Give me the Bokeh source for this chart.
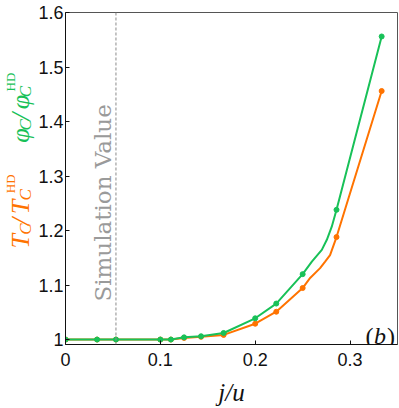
import math
from bokeh.plotting import figure
from bokeh.layouts import row
from bokeh.models import Label, Span, FixedTicker, Range1d
from bokeh.embed import file_html
from bokeh.resources import INLINE

# ---------------- data ----------------
j_points = [0.0, 0.0333, 0.0532, 0.1, 0.1111, 0.125, 0.1429, 0.1667, 0.2, 0.2222, 0.25, 0.2857, 0.3333]
tc_points = [1.0, 1.0, 1.0, 1.0, 1.0, 1.003, 1.005, 1.0085, 1.029, 1.051, 1.0945, 1.188, 1.456]
phi_points = [1.0, 1.0, 1.0, 1.0, 1.0, 1.004, 1.006, 1.012, 1.039, 1.066, 1.120, 1.238, 1.556]

# curves (denser near the kink)
j_curve_tc = [0.0, 0.0333, 0.0532, 0.1, 0.1111, 0.125, 0.1429, 0.1667, 0.2, 0.2222, 0.25,
              0.2579, 0.2684, 0.2737, 0.2789, 0.2857, 0.3333]
tc_curve = [1.0, 1.0, 1.0, 1.0, 1.0, 1.003, 1.005, 1.0085, 1.029, 1.051, 1.0945,
            1.113, 1.131, 1.143, 1.155, 1.188, 1.456]
j_curve_phi = [0.0, 0.0333, 0.0532, 0.1, 0.1111, 0.125, 0.1429, 0.1667, 0.2, 0.2222, 0.25,
               0.2597, 0.2702, 0.2755, 0.2807, 0.2857, 0.3333]
phi_curve = [1.0, 1.0, 1.0, 1.0, 1.0, 1.004, 1.006, 1.012, 1.039, 1.066, 1.120,
             1.143, 1.1645, 1.183, 1.207, 1.238, 1.556]

simulation_j = 0.0532

x_ticks = [0, 0.1, 0.2, 0.3]
x_tick_labels = ["0", "0.1", "0.2", "0.3"]
y_ticks = [1.0, 1.1, 1.2, 1.3, 1.4, 1.5, 1.6]
y_tick_labels = ["1", "1.1", "1.2", "1.3", "1.4", "1.5", "1.6"]

X_MIN, X_MAX = 0.0, 0.35
Y_MIN, Y_MAX = 0.9909, 1.6

ORANGE = "#ff7300"
GREEN = "#18c158"
SERIF = "Liberation Serif"

# ---------------- layout (page pixels) ----------------
W, H = 399, 408
LW = 35                      # width of the strip holding the y label
FL, FR, FT, FB = 65, 397, 12, 345


def dx(px):
    return X_MIN + (px - FL) / (FR - FL) * (X_MAX - X_MIN)


def dy(py):
    return Y_MIN + (FB - py) / (FB - FT) * (Y_MAX - Y_MIN)


p = figure(width=W - LW, height=H, x_range=Range1d(X_MIN, X_MAX), y_range=Range1d(Y_MIN, Y_MAX),
           output_backend="svg", toolbar_location=None,
           min_border_left=FL - LW, min_border_right=W - FR, min_border_top=FT,
           min_border_bottom=H - FB)
p.background_fill_color = "white"
p.border_fill_color = "white"
p.grid.visible = False
p.outline_line_color = "#555555"
p.outline_line_width = 1

for ax in (p.xaxis[0], p.yaxis[0]):
    ax.axis_line_color = "#111111"
    ax.axis_line_width = 1
    ax.major_tick_in = 4
    ax.major_tick_out = 0
    ax.major_tick_line_color = "#111111"
    ax.minor_tick_line_color = None
    ax.major_label_text_font = "Liberation Sans"
    ax.major_label_text_font_size = "18px"
    ax.major_label_text_color = "#111111"

p.xaxis.ticker = FixedTicker(ticks=x_ticks)
p.xaxis.major_label_overrides = {t: l for t, l in zip(x_ticks, x_tick_labels)}
p.xaxis.major_label_standoff = 8
p.xaxis.axis_label = "j/u"
p.xaxis.axis_label_text_font = SERIF
p.xaxis.axis_label_text_font_style = "italic"
p.xaxis.axis_label_text_font_size = "25px"
p.xaxis.axis_label_text_color = "#111111"
p.xaxis.axis_label_standoff = 10
p.yaxis.ticker = FixedTicker(ticks=y_ticks)
p.yaxis.major_label_overrides = {t: l for t, l in zip(y_ticks, y_tick_labels)}
p.yaxis.major_label_standoff = 2

# simulation line
p.add_layout(Span(location=simulation_j, dimension="height", line_color="#8a8a8a",
                  line_dash="3 2", line_width=1))

# series
p.line(j_curve_tc, tc_curve, line_color=ORANGE, line_width=2)
p.scatter(j_points, tc_points, size=5, color=ORANGE)
p.line(j_curve_phi, phi_curve, line_color=GREEN, line_width=2)
p.scatter(j_points, phi_points, size=5, color=GREEN)


def main_label(text, px, py, size, color, angle=0.0, align="left", style="italic", font=SERIF,
               baseline="alphabetic"):
    p.add_layout(Label(x=dx(px), y=dy(py), text=text, angle=angle, text_align=align,
                       text_baseline=baseline, text_font=font, text_font_style=style,
                       text_font_size=f"{size}px", text_color=color))


R = math.pi / 2
main_label("Simulation Value", 102, 203, 23, "#9a9a9a", R, align="center", style="normal",
           font="DejaVu Serif", baseline="middle")
main_label("(", 365, 336, 24, "#111111", style="normal")
main_label("b", 373.5, 336, 24, "#111111")
main_label(")", 386.5, 336, 24, "#111111", style="normal")

# ---------------- y label strip ----------------
q = figure(width=LW, height=H, x_range=Range1d(0, LW), y_range=Range1d(0, H),
           output_backend="svg", toolbar_location=None,
           x_axis_location=None, y_axis_location=None,
           min_border_left=0, min_border_right=0, min_border_top=0, min_border_bottom=0)
q.grid.visible = False
q.outline_line_color = None
q.background_fill_color = "white"
q.border_fill_color = "white"


def side_label(text, px, py, size, color, style="italic"):
    q.add_layout(Label(x=px, y=H - py, text=text, angle=R, text_align="left",
                       text_baseline="middle", text_font=SERIF, text_font_style=style,
                       text_font_size=f"{size}px", text_color=color))


MAIN_X, SUB_X, SUP_X = 19.5, 25, 10
# T_C / T_C^HD (orange)
side_label("T", MAIN_X, 290, 26, ORANGE)
side_label("C", SUB_X, 273, 17, ORANGE)
side_label("/", MAIN_X, 261, 26, ORANGE)
side_label("T", MAIN_X, 248, 26, ORANGE)
side_label("C", SUB_X, 231, 17, ORANGE)
side_label("HD", SUP_X, 222, 13, ORANGE, style="normal")
# phi_C / phi_C^HD (green)
side_label("φ", MAIN_X, 160, 26, GREEN)
side_label("C", SUB_X, 145, 17, GREEN)
side_label("/", MAIN_X, 132, 26, GREEN)
side_label("φ", MAIN_X, 119, 26, GREEN)
side_label("C", SUB_X, 104, 17, GREEN)
side_label("HD", SUP_X, 97, 13, GREEN, style="normal")

layout = row(q, p)
open("out.html", "w").write(file_html(layout, INLINE))
